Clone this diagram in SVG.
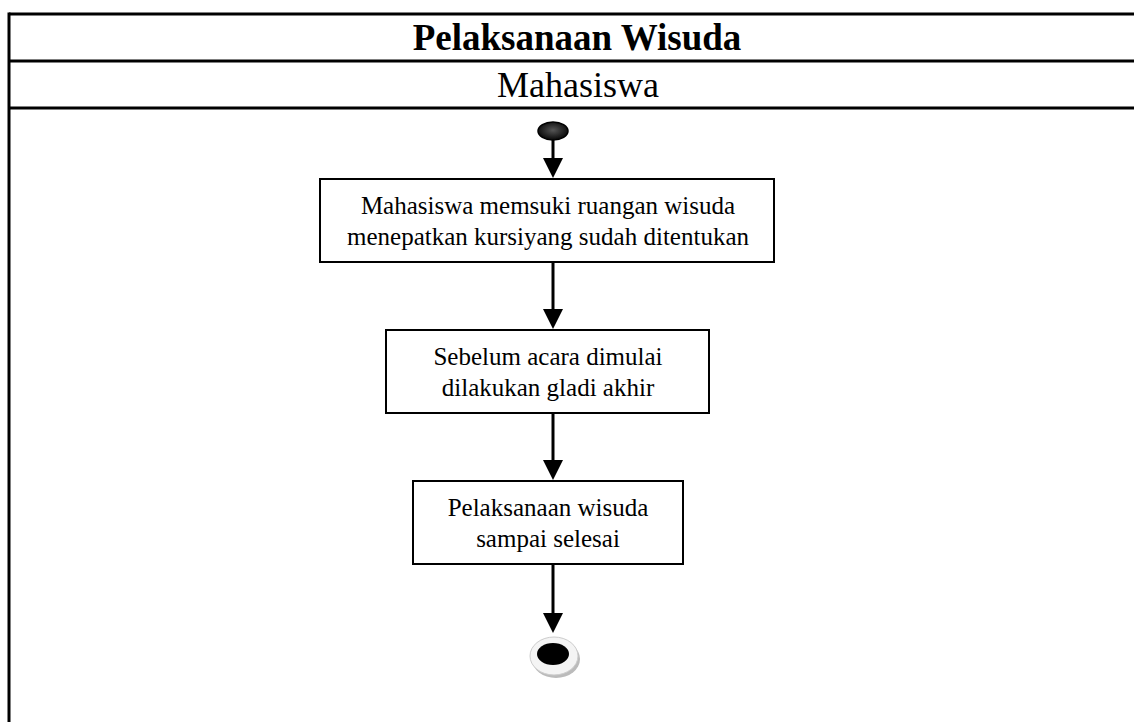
<svg xmlns="http://www.w3.org/2000/svg" width="1134" height="722" viewBox="0 0 1134 722">
<defs>
<style>
.frame{stroke:#000;stroke-width:3;fill:none}
.box{fill:#fff;stroke:#000;stroke-width:2}
.t{font-family:"Liberation Serif",serif;font-size:25px;text-anchor:middle;fill:#000}
.conn{stroke:#000;stroke-width:3;fill:none}
</style>
<radialGradient id="startg" cx="0.5" cy="0.45" r="0.6">
<stop offset="0" stop-color="#555"/>
<stop offset="1" stop-color="#000"/>
</radialGradient>
</defs>
<rect width="1134" height="722" fill="#fff"/>
<g id="frame">
<line class="frame" x1="9" y1="14" x2="1134" y2="14"/>
<line class="frame" x1="9" y1="61" x2="1134" y2="61"/>
<line class="frame" x1="9" y1="108" x2="1134" y2="108"/>
<line class="frame" x1="9" y1="12.5" x2="9" y2="722"/>
<text x="577" y="50" style="font-family:'Liberation Serif',serif;font-size:37px;font-weight:bold;text-anchor:middle">Pelaksanaan Wisuda</text>
<text x="578" y="97" style="font-family:'Liberation Serif',serif;font-size:36px;text-anchor:middle">Mahasiswa</text>
</g>
<g id="connectors">
<line class="conn" x1="553" y1="140" x2="553" y2="160"/>
<path d="M543,158 L563,158 L553,178 Z" fill="#000"/>
<line class="conn" x1="553" y1="262" x2="553" y2="310"/>
<path d="M543,309 L563,309 L553,329 Z" fill="#000"/>
<line class="conn" x1="553" y1="413" x2="553" y2="461"/>
<path d="M543,460 L563,460 L553,480 Z" fill="#000"/>
<line class="conn" x1="553" y1="564" x2="553" y2="614"/>
<path d="M543,613 L563,613 L553,633 Z" fill="#000"/>
</g>
<g id="start">
<ellipse cx="553" cy="131" rx="15" ry="9" fill="url(#startg)" stroke="#000" stroke-width="1.5"/>
</g>
<g id="act1">
<rect class="box" x="320" y="179" width="454" height="83"/>
<text class="t" x="548" y="214">Mahasiswa memsuki ruangan wisuda</text>
<text class="t" x="548" y="245">menepatkan kursiyang sudah ditentukan</text>
</g>
<g id="act2">
<rect class="box" x="386" y="330" width="323" height="83"/>
<text class="t" x="548" y="365">Sebelum acara dimulai</text>
<text class="t" x="548" y="396">dilakukan gladi akhir</text>
</g>
<g id="act3">
<rect class="box" x="413" y="481" width="270" height="83"/>
<text class="t" x="548" y="516">Pelaksanaan wisuda</text>
<text class="t" x="548" y="547">sampai selesai</text>
</g>
<g id="end">
<ellipse cx="556" cy="659" rx="24" ry="19" fill="#bbb"/>
<ellipse cx="554" cy="656" rx="24" ry="19" fill="#f4f4f4" stroke="#ccc" stroke-width="1"/>
<ellipse cx="553" cy="654" rx="16" ry="11" fill="#000"/>
</g>
</svg>
